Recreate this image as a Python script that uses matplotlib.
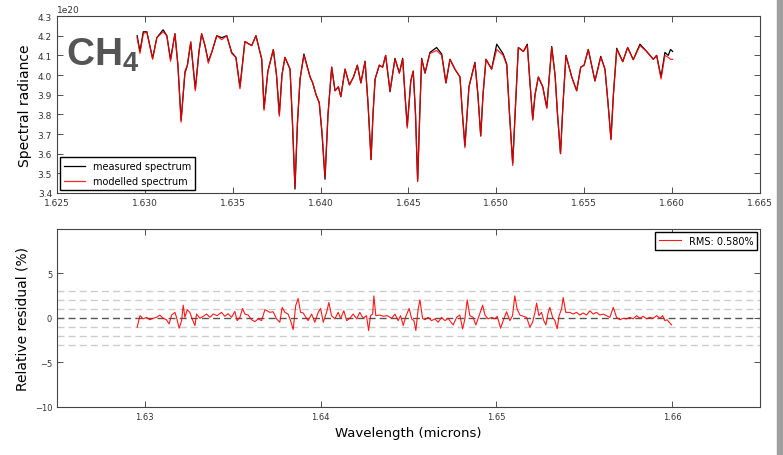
import numpy as np
import matplotlib.pyplot as plt
from matplotlib.patches import Rectangle

# wavelength grid of the spectrum (microns), values in units of 1e20
wl_spec = [
    1.62956, 1.62972, 1.62991, 1.63011, 1.63044, 1.63068, 1.63104, 1.63125, 1.63146, 1.63171,
    1.63188, 1.63206, 1.63228, 1.63242, 1.63261, 1.63287, 1.63308, 1.63323, 1.63342, 1.63361,
    1.63382, 1.63409, 1.63437, 1.63466, 1.63494, 1.63518, 1.63541, 1.63569, 1.63608, 1.63632,
    1.63665, 1.63678, 1.63700, 1.63731, 1.63749, 1.63765, 1.63780, 1.63797, 1.63826, 1.63840,
    1.63854, 1.63868, 1.63883, 1.63905, 1.63940, 1.63955, 1.63974, 1.63992, 1.64008, 1.64025,
    1.64042, 1.64063, 1.64082, 1.64101, 1.64115, 1.64139, 1.64164, 1.64187, 1.64209, 1.64229,
    1.64253, 1.64270, 1.64287, 1.64298, 1.64310, 1.64334, 1.64353, 1.64370, 1.64395, 1.64423,
    1.64448, 1.64467, 1.64480, 1.64493, 1.64513, 1.64527, 1.64540, 1.64552, 1.64564, 1.64575,
    1.64594, 1.64622, 1.64660, 1.64689, 1.64713, 1.64736, 1.64764, 1.64793, 1.64807, 1.64821,
    1.64844, 1.64878, 1.64895, 1.64911, 1.64924, 1.64941, 1.64973, 1.65002, 1.65039, 1.65059,
    1.65075, 1.65093, 1.65109, 1.65125, 1.65154, 1.65176, 1.65192, 1.65207, 1.65220, 1.65239,
    1.65264, 1.65287, 1.65315, 1.65334, 1.65348, 1.65365, 1.65379, 1.65396, 1.65429, 1.65457,
    1.65480, 1.65499, 1.65523, 1.65561, 1.65594, 1.65618, 1.65636, 1.65652, 1.65666, 1.65685,
    1.65719, 1.65747, 1.65779, 1.65817, 1.65855, 1.65893, 1.65912, 1.65937, 1.65959, 1.65978,
    1.65991, 1.66003,
]
measured = [
    4.20, 4.12, 4.22, 4.22, 4.085, 4.19, 4.23, 4.20, 4.08, 4.21,
    4.05, 3.77, 4.01, 4.05, 4.166, 3.93, 4.12, 4.21, 4.15, 4.07,
    4.12, 4.20, 4.19, 4.20, 4.115, 4.09, 3.94, 4.17, 4.15, 4.20,
    4.08, 3.83, 4.02, 4.13, 4.00, 3.80, 4.00, 4.09, 4.03, 3.75,
    3.42, 3.75, 3.98, 4.107, 3.99, 3.96, 3.90, 3.86, 3.70, 3.47,
    3.80, 4.04, 3.92, 3.94, 3.89, 4.03, 3.95, 3.99, 4.05, 3.96,
    4.07, 3.85, 3.57, 3.80, 3.98, 4.05, 4.04, 4.10, 3.915, 4.085,
    4.01, 4.085, 3.90, 3.74, 3.97, 4.02, 3.80, 3.46, 3.80, 4.085,
    4.01, 4.115, 4.14, 4.107, 3.96, 4.08, 4.03, 3.99, 3.80, 3.64,
    3.94, 4.065, 3.90, 3.69, 3.90, 4.08, 4.03, 4.157, 4.107, 4.056,
    3.80, 3.55, 3.85, 4.14, 4.12, 4.157, 3.95, 3.776, 3.90, 3.99,
    3.94, 3.835, 4.145, 4.00, 3.80, 3.60, 3.85, 4.10, 3.99, 3.92,
    4.04, 4.05, 4.13, 3.97, 4.095, 4.03, 3.85, 3.675, 3.90, 4.136,
    4.068, 4.14, 4.078, 4.157, 4.12, 4.08, 4.10, 3.99, 4.115, 4.10,
    4.13, 4.12,
]
modelled = [
    4.19, 4.11, 4.21, 4.22, 4.08, 4.19, 4.22, 4.20, 4.07, 4.21,
    4.05, 3.76, 4.02, 4.05, 4.17, 3.92, 4.12, 4.21, 4.15, 4.06,
    4.12, 4.20, 4.18, 4.20, 4.11, 4.09, 3.93, 4.17, 4.15, 4.20,
    4.08, 3.82, 4.02, 4.13, 4.00, 3.79, 4.00, 4.09, 4.03, 3.76,
    3.43, 3.76, 3.98, 4.10, 3.99, 3.96, 3.90, 3.86, 3.71, 3.48,
    3.80, 4.04, 3.92, 3.94, 3.89, 4.03, 3.95, 3.99, 4.05, 3.96,
    4.07, 3.85, 3.57, 3.80, 3.98, 4.05, 4.04, 4.10, 3.92, 4.08,
    4.01, 4.08, 3.90, 3.73, 3.97, 4.02, 3.80, 3.46, 3.80, 4.08,
    4.01, 4.11, 4.125, 4.10, 3.96, 4.08, 4.03, 3.99, 3.80, 3.63,
    3.94, 4.06, 3.90, 3.69, 3.90, 4.08, 4.03, 4.13, 4.10, 4.05,
    3.80, 3.54, 3.85, 4.14, 4.12, 4.15, 3.95, 3.77, 3.90, 3.99,
    3.94, 3.83, 4.14, 4.00, 3.80, 3.60, 3.85, 4.10, 3.99, 3.92,
    4.04, 4.05, 4.13, 3.97, 4.09, 4.03, 3.85, 3.67, 3.90, 4.13,
    4.068, 4.14, 4.078, 4.15, 4.12, 4.08, 4.10, 3.98, 4.10, 4.09,
    4.08, 4.08,
]
radiance_unit = 1e20

# relative residual (%)
wl_resid = [
    1.62956, 1.62972, 1.62990, 1.63010, 1.63028, 1.63047, 1.63067, 1.63085, 1.63104, 1.63123,
    1.63138, 1.63152, 1.63171, 1.63180, 1.63195, 1.63209, 1.63218, 1.63228, 1.63241, 1.63256,
    1.63271, 1.63285, 1.63294, 1.63313, 1.63332, 1.63351, 1.63370, 1.63389, 1.63411, 1.63436,
    1.63455, 1.63474, 1.63493, 1.63512, 1.63525, 1.63541, 1.63556, 1.63569, 1.63588, 1.63607,
    1.63626, 1.63645, 1.63664, 1.63683, 1.63696, 1.63711, 1.63730, 1.63749, 1.63768, 1.63781,
    1.63797, 1.63815, 1.63829, 1.63844, 1.63858, 1.63872, 1.63886, 1.63901, 1.63916, 1.63929,
    1.63949, 1.63967, 1.63986, 1.64000, 1.64015, 1.64034, 1.64047, 1.64062, 1.64081, 1.64100,
    1.64114, 1.64132, 1.64148, 1.64166, 1.64185, 1.64205, 1.64223, 1.64242, 1.64261, 1.64273,
    1.64284, 1.64296, 1.64303, 1.64314, 1.64337, 1.64356, 1.64379, 1.64404, 1.64423, 1.64441,
    1.64455, 1.64470, 1.64485, 1.64504, 1.64518, 1.64531, 1.64542, 1.64555, 1.64565, 1.64580,
    1.64593, 1.64612, 1.64631, 1.64650, 1.64669, 1.64688, 1.64707, 1.64726, 1.64735, 1.64754,
    1.64774, 1.64792, 1.64808, 1.64821, 1.64834, 1.64849, 1.64868, 1.64883, 1.64902, 1.64922,
    1.64935, 1.64953, 1.64973, 1.64992, 1.65005, 1.65024, 1.65039, 1.65058, 1.65077, 1.65092,
    1.65105, 1.65118, 1.65134, 1.65153, 1.65172, 1.65191, 1.65206, 1.65219, 1.65229, 1.65242,
    1.65257, 1.65270, 1.65282, 1.65295, 1.65304, 1.65320, 1.65333, 1.65346, 1.65357, 1.65371,
    1.65380, 1.65395, 1.65418, 1.65437, 1.65456, 1.65475, 1.65494, 1.65513, 1.65532, 1.65551,
    1.65570, 1.65589, 1.65608, 1.65627, 1.65646, 1.65665, 1.65684, 1.65703, 1.65722, 1.65741,
    1.65760, 1.65778, 1.65798, 1.65817, 1.65835, 1.65855, 1.65873, 1.65892, 1.65912, 1.65930,
    1.65946, 1.65959, 1.65972, 1.65987, 1.65997,
]
resid = [
    -1.04, 0.26, -0.10, 0.07, -0.20, -0.04, 0.07, 0.33, -0.04, -0.20,
    -0.67, 0.33, 0.63, 0.07, -1.15, -0.30, 1.44, 0.07, 0.93, 0.63,
    -0.20, -0.85, 0.44, -0.04, 0.19, 0.44, 0.07, 0.44, 0.26, 0.63,
    0.19, 0.48, 0.07, 0.74, -0.30, 0.07, 1.07, 0.44, 0.33, -0.20,
    -0.41, -0.10, -0.30, 0.93, 0.81, 0.63, 0.70, -0.10, -0.48, 1.19,
    0.63, 0.44, -0.30, -1.30, 1.37, 2.19, 0.63, 0.56, 0.07, -0.30,
    0.44, -0.48, 0.63, 1.07, -0.48, 0.63, 1.74, 0.26, -0.10, 0.63,
    -0.04, 0.81, -0.30, -0.04, 0.44, -0.10, 0.63, -0.04, 0.26, -1.41,
    0.26, 0.44, 2.48, 0.26, 0.33, 0.19, 0.26, -0.04, 0.44, -0.30,
    0.26, -0.85, 0.19, 1.07, -0.10, -0.30, -1.41, 1.00, 2.04, -0.04,
    -0.20, 0.07, -0.30, -0.10, -0.48, 0.07, -0.30, -0.04, -0.30, -0.78,
    0.07, 0.33, -1.22, -0.10, 2.04, 0.26, 0.07, -0.78, 0.26, 1.44,
    0.33, -0.10, 0.07, -0.10, 0.19, -1.15, -0.30, 0.70, -0.30, 0.26,
    2.48, 1.00, 0.33, 0.19, 0.07, -1.04, -0.48, 0.56, 1.67, 0.26,
    0.63, -0.30, -0.78, 0.63, 1.19, 0.07, -0.30, -1.22, 0.26, 1.00,
    2.30, 0.63, 0.63, 0.44, 0.63, 0.33, 0.56, 0.33, 0.81, 0.44,
    0.63, 0.33, 0.44, 0.26, 0.07, 1.19, 0.07, -0.20, -0.04, -0.10,
    0.07, -0.10, 0.26, -0.04, 0.19, -0.10, 0.07, -0.04, 0.26, -0.04,
    0.26, -0.30, -0.20, -0.56, -0.78,
]
rms_label = 'RMS: 0.580%'
guide_levels = [-3, -2, -1, 1, 2, 3]

plt.rcParams['font.family'] = 'DejaVu Sans'
plt.rcParams['xtick.direction'] = 'in'
plt.rcParams['ytick.direction'] = 'in'
plt.rcParams['xtick.top'] = True
plt.rcParams['ytick.right'] = True
plt.rcParams['axes.edgecolor'] = '#444444'
plt.rcParams['mathtext.fontset'] = 'custom'
plt.rcParams['mathtext.bf'] = 'Liberation Sans:bold'
plt.rcParams['mathtext.rm'] = 'Liberation Sans'

fig = plt.figure(figsize=(7.83, 4.56), dpi=100)
ax1 = fig.add_axes([0.0728, 0.5746, 0.8978, 0.388])
ax2 = fig.add_axes([0.0728, 0.1053, 0.8978, 0.3904])

# spectrum panel
spec_m = np.array(measured) * radiance_unit
spec_f = np.array(modelled) * radiance_unit
ax1.plot(wl_spec, spec_m, color='black', lw=0.9, label='measured spectrum')
ax1.plot(wl_spec, spec_f, color='red', lw=0.9, alpha=0.85, label='modelled spectrum')
ax1.set_xlim(1.625, 1.665)
ax1.set_ylim(3.4e20, 4.3e20)
ax1.set_xticks(np.arange(1.625, 1.6651, 0.005))
ax1.set_yticks(np.arange(3.4, 4.31, 0.1) * radiance_unit)
ax1.tick_params(labelsize=6.5, length=4, width=0.6, colors='#333333')
ax1.yaxis.get_offset_text().set_fontsize(6.5)
ax1.set_ylabel('Spectral radiance', fontsize=10)
ax1.legend(loc='lower left', fontsize=7, fancybox=False, edgecolor='black',
           framealpha=1, handlelength=2.2, borderaxespad=0.3)
ax1.text(0.013, 0.895, r'$\mathbf{CH_4}$', transform=ax1.transAxes, fontsize=28,
         color='#555555', va='top', ha='left')

# residual panel
ax2.axhline(0, color='#555555', lw=1, ls=(0, (5, 3)))
for lev in guide_levels:
    ax2.axhline(lev, color='#cccccc', lw=1, ls=(0, (5, 3)))
ax2.plot(wl_resid, resid, color='red', lw=0.8, alpha=0.9, label=rms_label)
ax2.set_xlim(1.625, 1.665)
ax2.set_ylim(-10, 10)
ax2.set_xticks([1.63, 1.64, 1.65, 1.66])
ax2.set_yticks([-10, -5, 0, 5])
ax2.tick_params(labelsize=6, length=4, width=0.6, colors='#333333')
ax2.set_xlabel('Wavelength (microns)', fontsize=9.5)
ax2.set_ylabel('Relative residual (%)', fontsize=10)
ax2.legend(loc='upper right', fontsize=7, fancybox=False, edgecolor='black',
           framealpha=1, handlelength=2.2, borderaxespad=0.3)

# grey page edge on the right
fig.patches.append(Rectangle((777 / 783, 0), 6 / 783, 1, transform=fig.transFigure,
                             color='#9e9e9e', zorder=-1))

fig.savefig('out.png', dpi=100)
